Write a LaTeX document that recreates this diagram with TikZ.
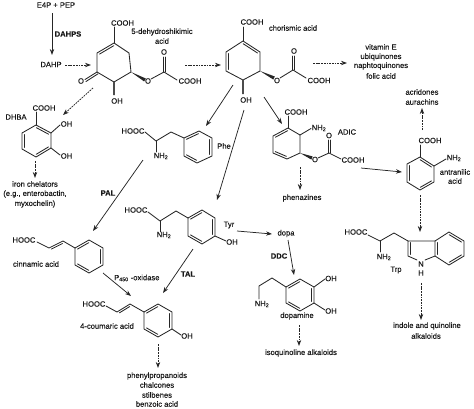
\documentclass[tikz,border=0pt]{standalone}
\usepackage{fontspec}
\setmainfont[FakeBold=0.2]{Liberation Sans}
\usetikzlibrary{calc,arrows.meta}
\tikzset{
  bond/.style={line width=0.85pt,line cap=round,line join=round,draw=black!85},
  solidarrow/.style={line width=0.75pt,draw=black!85,-{Stealth[length=6pt,width=4.4pt]}},
  dasharrow/.style={solidarrow,dash pattern=on 1.8pt off 0.9pt},
  lbl/.style={inner sep=0pt,font=\fontsize{7.6}{8}\selectfont,text=black!90},
  blbl/.style={lbl,font=\fontsize{7.6}{8}\selectfont\bfseries},
  hash/.style={line width=1.7pt,draw=black!70,dash pattern=on 0.6pt off 0.4pt}
}
\newcommand{\hexa}[7]{%
  \coordinate (#11) at (#2);\coordinate (#12) at (#3);\coordinate (#13) at (#4);
  \coordinate (#14) at (#5);\coordinate (#15) at (#6);\coordinate (#16) at (#7);
  \draw[bond] (#11)--(#12)--(#13)--(#14)--(#15)--(#16)--cycle;}
\newcommand{\dbl}[3]{\draw[bond,shorten >=1.6pt,shorten <=1.6pt] ($(#1)!#3!90:(#2)$) -- ($(#2)!#3!-90:(#1)$);}
\newcommand{\inn}[2]{\dbl{#1}{#2}{-2.2pt}}
\newcommand{\wedgeb}[2]{\fill[black!85] (#1) -- ($(#2)!1.7pt!90:(#1)$) -- ($(#2)!1.7pt!-90:(#1)$) -- cycle;}
\newcommand{\arr}[4]{\coordinate (#1s) at (#3);\coordinate (#1e) at (#4);\draw[#2] (#1s) -- (#1e);}
\begin{document}
\begin{tikzpicture}[x=1pt,y=-1pt]
\useasboundingbox (0,0) rectangle (474,408);
% 5-dehydroshikimic acid
\hexa{a}{114,43}{129,53}{131,72}{114,82}{97,72}{97,53}
\inn{a6}{a1}
\draw[bond] (a1)--(114,27);
\draw[bond] (a5)--(85,79.5);\draw[bond] ($(a5)+(1,1.8)$)--(86,81.5);
\wedgeb{a3}{145,80}
\draw[hash] (a4)--(114,95);
\coordinate (ac) at (164,72);
\draw[bond] (151,79)--(ac)--(177,80);
\draw[bond] (163,72)--(163,57);\draw[bond] (165,72)--(165,57);
\node[lbl] (a-cooh) at (122.5,23) {COOH};
\node[lbl] (a-name1) at (162,32) {5-dehydroshikimic};
\node[lbl] (a-name2) at (162,41) {acid};
\node[lbl] (a-o) at (81,81) {O};
\node[lbl] (a-oh) at (117,101) {OH};
\node[lbl] (a-o2) at (148,81) {O};
\node[lbl] (a-o3) at (164,52) {O};
\node[lbl] (a-cooh2) at (190,81) {COOH};
% chorismic acid
\hexa{b}{243,41}{260,52}{260,71}{243,80}{226,71}{226,52}
\inn{b1}{b2}
\inn{b5}{b6}
\draw[bond] (b1)--(243,27);
\wedgeb{b3}{274,78}
\draw[hash] (b4)--(243,94);
\draw[bond] (280,78)--(293,70)--(306,78);
\draw[bond] (292,70)--(292,56);\draw[bond] (294,70)--(294,56);
\node[lbl] (b-cooh) at (252,22) {COOH};
\node[lbl] (b-name) at (293,28) {chorismic acid};
\node[lbl] (b-oh) at (246,100) {OH};
\node[lbl] (b-o) at (277,80.5) {O};
\node[lbl] (b-o2) at (294,51) {O};
\node[lbl] (b-cooh2) at (319,80.5) {COOH};
% DHBA
\hexa{c}{36,125}{51,133}{51,148}{36,157}{22,149}{22,133}
\inn{c1}{c2}\inn{c3}{c4}\inn{c5}{c6}
\draw[bond] (c1)--(36,112);\draw[bond] (c2)--(60,125);\draw[bond] (c3)--(60,155);
\node[lbl] (c-cooh) at (44,108) {COOH};
\node[lbl] (c-name) at (16,117) {DHBA};
\node[lbl] (c-oh1) at (66.5,124) {OH};
\node[lbl] (c-oh2) at (66.5,156) {OH};
\node[lbl] (c-t1) at (35,184) {iron chelators};
\node[lbl] (c-t2) at (35,194) {(e.g., enterobactin,};
\node[lbl] (c-t3) at (35,204) {myxochelin)};
% Phe
\hexa{d}{199,131}{212,138}{212,156}{197,163}{184,156}{184,138}
\inn{d6}{d1}\inn{d2}{d3}\inn{d4}{d5}
\draw[bond] (145,132)--(156,141)--(171,132)--(d6);\draw[bond] (156,141)--(156,152);
\node[lbl] (d-h) at (133,131) {HOOC};
\node[lbl] (d-n) at (161,156) {NH\textsubscript{2}};
\node[lbl] (d-name) at (224,146) {Phe};
% Tyr
\hexa{e}{202,210}{215,218}{215,236}{202,244}{188,236}{188,218}
\inn{e6}{e1}\inn{e2}{e3}\inn{e4}{e5}
\draw[bond] (148,212)--(160,221)--(176,211)--(e6);\draw[bond] (160,221)--(160,232);
\draw[bond] (e3)--(226,241);
\node[lbl] (e-h) at (136,210) {HOOC};
\node[lbl] (e-n) at (164,235) {NH\textsubscript{2}};
\node[lbl] (e-name) at (229,225) {Tyr};
\node[lbl] (e-oh) at (232,242) {OH};
% ADIC
\hexa{f}{288,128}{300,135}{300,153}{287,159}{273,153}{273,136}
\inn{f6}{f1}\inn{f4}{f5}
\draw[bond] (f1)--(288,116);\draw[bond] (f2)--(311,128.5);
\wedgeb{f3}{312,158}
\draw[bond] (318,158)--(329,153)--(341,159);
\draw[bond] (328,153)--(328,140);\draw[bond] (330,153)--(330,140);
\node[lbl] (f-cooh) at (296,112) {COOH};
\node[lbl] (f-n) at (319,128) {NH\textsubscript{2}};
\node[lbl] (f-o) at (329,135.5) {O};
\node[lbl] (f-o2) at (315,159.5) {O};
\node[lbl] (f-cooh2) at (353,160) {COOH};
\node[lbl] (f-name) at (347,132) {ADIC};
\node[lbl] (f-t) at (302,198) {phenazines};
% anthranilic
\hexa{g}{420,157}{434,166}{434,182}{420,190}{407,182}{407,164}
\inn{g1}{g2}\inn{g3}{g4}\inn{g5}{g6}
\draw[bond] (g1)--(420,145);\draw[bond] (g2)--(446,159);
\node[lbl] (g-cooh) at (430,140.5) {COOH};
\node[lbl] (g-n) at (454,158) {NH\textsubscript{2}};
\node[lbl] (g-t1) at (455,172) {antranilic};
\node[lbl] (g-t2) at (455,181) {acid};
\node[lbl] (g-u1) at (422,92) {acridones};
\node[lbl] (g-u2) at (422,102) {aurachins};
% vitamin text
\node[lbl] (v1) at (381,47) {vitamin E};
\node[lbl] (v2) at (381,57) {ubiquinones};
\node[lbl] (v3) at (381,66) {naphtoquinones};
\node[lbl] (v4) at (381,76) {folic acid};
% cinnamic
\hexa{h}{89,240}{103,248}{103,265}{89,273}{75,265}{75,248}
\inn{h6}{h1}\inn{h2}{h3}\inn{h4}{h5}
\coordinate (hp) at (49,248);\coordinate (hq) at (63,241);
\draw[bond] (37,242)--(hp)--(hq)--(h6);\dbl{hp}{hq}{-2pt}
\node[lbl] (h-h) at (24,240) {HOOC};
\node[lbl] (h-name) at (36,264) {cinnamic acid};
% 4-coumaric
\hexa{i}{158,304}{172,312}{172,329}{158,337}{144,329}{144,312}
\inn{i6}{i1}\inn{i2}{i3}\inn{i4}{i5}
\coordinate (ip) at (117,312);\coordinate (iq) at (130,304);
\draw[bond] (106,306)--(ip)--(iq)--(i6);\dbl{ip}{iq}{-2pt}
\draw[bond] (i3)--(181,335);
\node[lbl] (i-h) at (94,304) {HOOC};
\node[lbl] (i-name) at (107,326) {4-coumaric acid};
\node[lbl] (i-oh) at (187,336) {OH};
\node[lbl] (i-t1) at (157,376) {phenylpropanoids};
\node[lbl] (i-t2) at (157,385) {chalcones};
\node[lbl] (i-t3) at (157,395) {stilbenes};
\node[lbl] (i-t4) at (157,404) {benzoic acid};
% dopamine
\hexa{j}{300,279}{314,287}{314,303}{300,311}{286,303}{286,287}
\inn{j6}{j1}\inn{j2}{j3}\inn{j4}{j5}
\draw[bond] (j6)--(272,278)--(259,286)--(259,299);
\draw[bond] (j2)--(325,279);\draw[bond] (j3)--(325,310);
\node[lbl] (j-n) at (262,304) {NH\textsubscript{2}};
\node[lbl] (j-oh1) at (331,278.5) {OH};
\node[lbl] (j-oh2) at (331,311) {OH};
\node[lbl] (j-name) at (297,316) {dopamine};
\node[lbl] (j-t) at (301,353) {isoquinoline alkaloids};
\node[lbl] (dopa) at (286,233.5) {dopa};
% Trp
\hexa{k}{449,232}{464,241}{464,256}{449,265}{435,256}{435,241}
\inn{k1}{k2}\inn{k3}{k4}\inn{k5}{k6}
\coordinate (kc) at (408,241);\coordinate (kd) at (408,256);
\draw[bond] (k6)--(kc)--(kd)--(417,260);\draw[bond] (425,260)--(k5);
\dbl{kc}{kd}{2pt}
\draw[bond] (368,235)--(380,241)--(394,233)--(kc);\draw[bond] (380,241)--(380,252);
\node[lbl] (k-h) at (356,232) {HOOC};
\node[lbl] (k-n) at (384,257) {NH\textsubscript{2}};
\node[lbl] (k-name) at (396,270) {Trp};
\node[lbl] (k-nn) at (421,264) {N};
\node[lbl] (k-hh) at (421,273) {H};
\node[lbl] (k-t1) at (427,326) {indole and quinoline};
\node[lbl] (k-t2) at (426,336) {alkaloids};
% misc labels
\node[lbl] (e4p) at (56,5) {E4P + PEP};
\node[blbl] (dahps) at (68,34) {DAHPS};
\node[lbl] (dahp) at (51,64.5) {DAHP};
\node[blbl] (pal) at (108,193) {PAL};
\node[blbl] (tal) at (188,274) {TAL};
\node[blbl] (ddc) at (279,256) {DDC};
\node[lbl,anchor=west] (p450) at (114,278) {P\textsubscript{450} -oxidase};
% arrows
\arr{r1}{solidarrow}{52,13}{52,55}
\arr{r2}{dasharrow}{65,65}{91,65}
\arr{r3}{dasharrow}{185,65}{221,65}
\arr{r4}{dasharrow}{93,88}{63,115}
\arr{r5}{dasharrow}{35,161}{35,178}
\arr{r6}{solidarrow}{233,85}{206,126}
\arr{r7}{solidarrow}{244,110}{217,200}
\arr{r8}{solidarrow}{143,160}{93,231}
\arr{r9}{solidarrow}{264,97}{282,124}
\arr{r10}{dasharrow}{313,63}{347,63}
\arr{r11}{dasharrow}{422,130}{422,108}
\arr{r12}{dasharrow}{420,195}{420,232}
\arr{r13}{dasharrow}{300,167}{300,190}
\arr{r14}{solidarrow}{361,168}{402,172}
\arr{r15}{solidarrow}{237,231}{272,234}
\arr{r16}{solidarrow}{288,240}{294,275}
\arr{r17}{dasharrow}{299,325}{299,346}
\arr{r18}{dasharrow}{421,283}{421,320}
\arr{r19}{solidarrow}{103,273}{131,296}
\arr{r20}{solidarrow}{193,249}{163,293}
\arr{r21}{dasharrow}{158,344}{158,368}
\end{tikzpicture}
\end{document}
